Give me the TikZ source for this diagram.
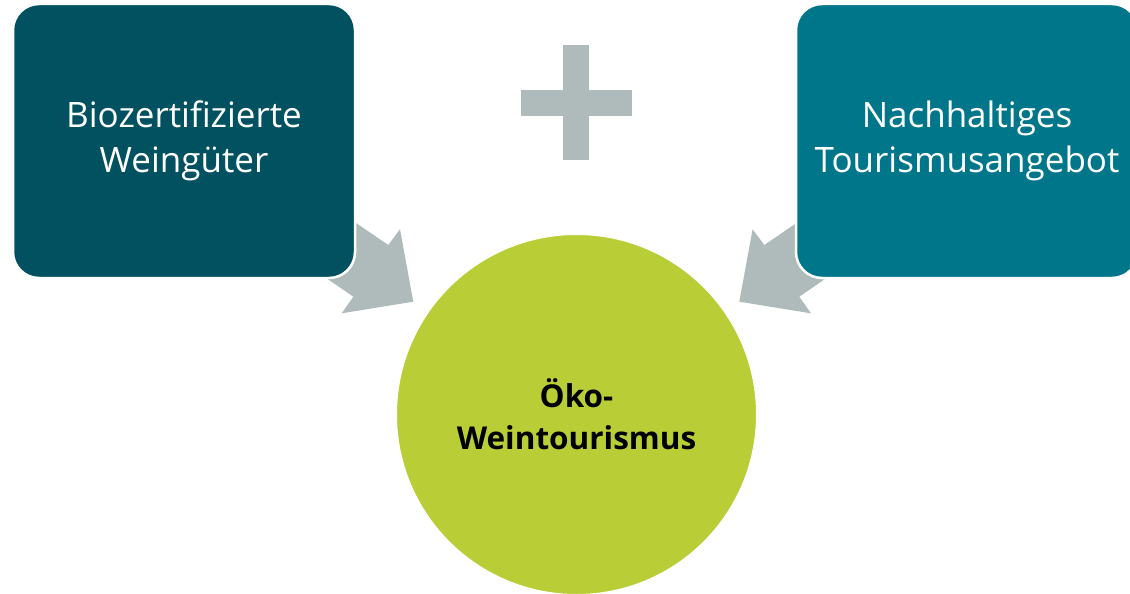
\documentclass[tikz,border=0pt]{standalone}
\usepackage{fontspec}
\setmainfont{Open Sans}
\definecolor{darkteal}{RGB}{2,81,96}
\definecolor{midteal}{RGB}{0,118,138}
\definecolor{arrowgray}{RGB}{175,187,186}
\definecolor{lime}{RGB}{185,205,54}
\begin{document}
\begin{tikzpicture}[x=1pt,y=-1pt,
  box/.style={draw=white,line width=2.5pt,rounded corners=26pt,minimum width=342pt,minimum height=274pt,
    text=white,align=center,font=\fontsize{35}{45}\selectfont,inner sep=0pt},
  blockarrow/.style={fill=arrowgray,draw=none},
  plusbar/.style={fill=arrowgray,draw=none}]
\useasboundingbox (0,0) rectangle (1130,594);
% arrows (drawn first, boxes overlap their tails)
\fill[blockarrow] (343,214) -- (388.3,245) -- (400,229.3) -- (413.3,301.7) -- (341.7,313.3) -- (353.3,296.7) -- (316.7,271.5) -- cycle;
\fill[blockarrow] (809.6,214) -- (764.3,245) -- (752.6,229.3) -- (739.3,301.7) -- (810.9,313.3) -- (799.3,296.7) -- (835.9,271.5) -- cycle;
% boxes
\node[box,fill=darkteal] (bio) at (184,141) {Biozertifizierte\\Weingüter};
\node[box,fill=midteal] (tour) at (967,141) {Nachhaltiges\\Tourismusangebot};
% plus sign
\fill[plusbar] (521,90) rectangle (632,115.5);
\fill[plusbar] (563,45.5) rectangle (589,159.5);
% circle
\node[circle,fill=lime,draw=white,line width=1pt,minimum size=360pt,inner sep=0pt,
  font=\bfseries\fontsize{31.5}{42}\selectfont,align=center] (eco) at (576.5,414.5) {Öko-\\Weintourismus};
\end{tikzpicture}
\end{document}
